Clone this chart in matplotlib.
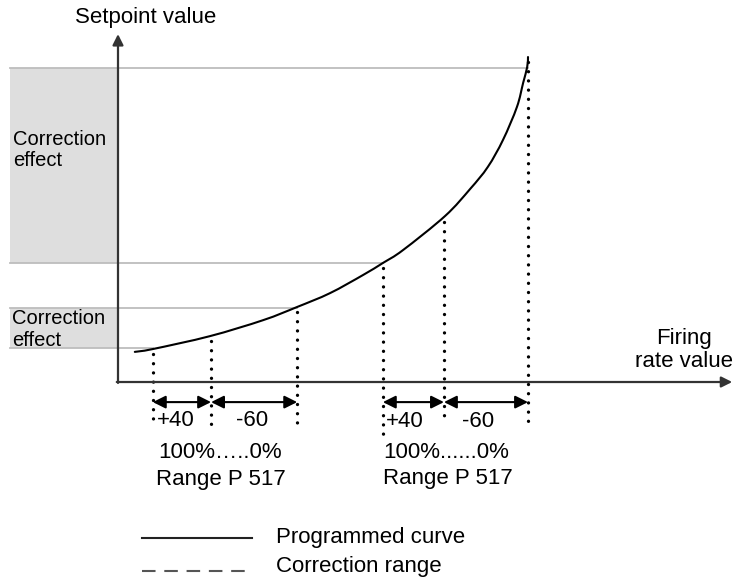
import numpy as np
import matplotlib
matplotlib.use("Agg")
import matplotlib.pyplot as plt
from matplotlib.path import Path
from matplotlib.patches import PathPatch

plt.rcParams['font.family'] = ['Liberation Sans', 'DejaVu Sans']

# Programmed curve: firing rate value -> setpoint value
curve_rate = [4.1, 8.5, 22.4, 35.4, 43.7, 51.7, 59.8, 64.6, 69.5, 79.8,
              85.9, 90.2, 93.9, 97.3, 98.8, 99.8, 100.0]
curve_setpoint = [9.6, 10.5, 14.6, 19.7, 23.9, 28.3, 34.1, 37.9, 42.0, 52.9,
                  61.5, 68.5, 77.1, 87.6, 95.2, 100.3, 103.5]

# Firing-rate positions marked with dotted drop lines (two P 517 ranges)
range_left = [8.5, 22.7, 43.7]
range_right = [64.6, 79.5, 100.0]
drop_ends = [-14.3, -14.6, -14.6, -18.5, -10.8, -13.0]
range_labels = ["+40", "-60"]

# Setpoint levels bounding the two correction-effect bands
band_low = [10.8, 37.9]
band_high = [23.6, 100.0]
level_values = [10.8, 23.6, 37.9, 100.0]
level_reach = [8.5, 43.7, 64.6, 100.0]

fig = plt.figure(figsize=(7.36, 5.77), dpi=100)
ax = fig.add_axes([0, 0, 1, 1])
ax.set_xlim(-28.78, 150.73)
ax.set_ylim(-62.1, 121.66)
ax.set_axis_off()

x_left = -26.3
grey_line = "#bdbdbd"

# Shaded correction bands
for lo, hi in zip(band_low, band_high):
    ax.fill_between([x_left, 0], lo, hi, color="#dedede", zorder=0, lw=0)

# Horizontal reference levels
for lvl, reach in zip(level_values, level_reach):
    ax.plot([x_left, reach], [lvl, lvl], color=grey_line, lw=1.3, zorder=1)

# Axes with arrow heads
axis_col = "#333333"
ax.annotate("", xy=(0, 110.8), xytext=(0, -0.3),
            arrowprops=dict(arrowstyle="-|>", color=axis_col, lw=1.6,
                            mutation_scale=16, shrinkA=0, shrinkB=0))
ax.annotate("", xy=(149.8, 0), xytext=(-0.3, 0),
            arrowprops=dict(arrowstyle="-|>", color=axis_col, lw=1.6,
                            mutation_scale=16, shrinkA=0, shrinkB=0))


def smooth_path(xs, ys):
    """Cubic Bezier path through the given points (Catmull-Rom tangents)."""
    pts = np.column_stack([xs, ys])
    n = len(pts)
    verts = [pts[0]]
    codes = [Path.MOVETO]
    for i in range(n - 1):
        p0 = pts[max(i - 1, 0)]
        p1 = pts[i]
        p2 = pts[i + 1]
        p3 = pts[min(i + 2, n - 1)]
        c1 = p1 + (p2 - p0) / 6.0
        c2 = p2 - (p3 - p1) / 6.0
        verts += [c1, c2, p2]
        codes += [Path.CURVE4] * 3
    return Path(verts, codes)


# Programmed curve
ax.add_patch(PathPatch(smooth_path(curve_rate, curve_setpoint), fill=False,
                       edgecolor="black", lw=1.5, zorder=3,
                       capstyle="round", joinstyle="round"))

# Dotted drop lines
marks = range_left + range_right
for xr, bottom in zip(marks, drop_ends):
    top = np.interp(xr, curve_rate, curve_setpoint) - 1.6
    ax.plot([xr, xr], [top, bottom], color="black", lw=2.4,
            linestyle=(0, (0.01, 2.75)), dash_capstyle="round", zorder=2)

# Double-headed range arrows
arrow_y = -6.4
for group in (range_left, range_right):
    for a, b in zip(group[:-1], group[1:]):
        ax.annotate("", xy=(b, arrow_y), xytext=(a, arrow_y),
                    arrowprops=dict(arrowstyle="<|-|>", color="black", lw=1.5,
                                    mutation_scale=19, shrinkA=0, shrinkB=0))

fs = 16
# Step labels
ax.text(14.1, -12.1, range_labels[0], fontsize=fs, ha="center", va="center")
ax.text(32.7, -12.1, range_labels[1], fontsize=fs, ha="center", va="center")
ax.text(70.0, -12.7, range_labels[0], fontsize=fs, ha="center", va="center")
ax.text(87.8, -12.7, range_labels[1], fontsize=fs, ha="center", va="center")

ax.text(25.0, -22.3, "100%\u2026..0%", fontsize=fs, ha="center", va="center")
ax.text(25.0, -31.2, "Range P 517", fontsize=fs, ha="center", va="center")
ax.text(64.6, -22.3, "100%......0%", fontsize=fs, ha="left", va="center")
ax.text(64.6, -30.8, "Range P 517", fontsize=fs, ha="left", va="center")

# Axis titles
ax.text(6.8, 116.2, "Setpoint value", fontsize=fs, ha="center", va="center")
ax.text(138.0, 10.2, "Firing\nrate value", fontsize=fs, ha="center",
        va="center", multialignment="center", linespacing=1.1)

# Band labels
ax.text(-25.6, 73.9, "Correction\neffect", fontsize=14.5, ha="left",
        va="center", linespacing=1.15)
ax.text(-25.8, 16.7, "Correction\neffect", fontsize=14.5, ha="left",
        va="center", linespacing=1.15)

# Key
ax.plot([5.85, 32.7], [-49.7, -49.7], color="#222222", lw=1.5)
ax.plot([5.85, 32.7], [-60.2, -60.2], color="#555555", lw=1.5,
        linestyle=(0, (6.5, 4.2)))
ax.text(38.5, -49.4, "Programmed curve", fontsize=fs, ha="left", va="center")
ax.text(38.5, -58.9, "Correction range", fontsize=fs, ha="left", va="center")

fig.savefig("out.png", dpi=100)
